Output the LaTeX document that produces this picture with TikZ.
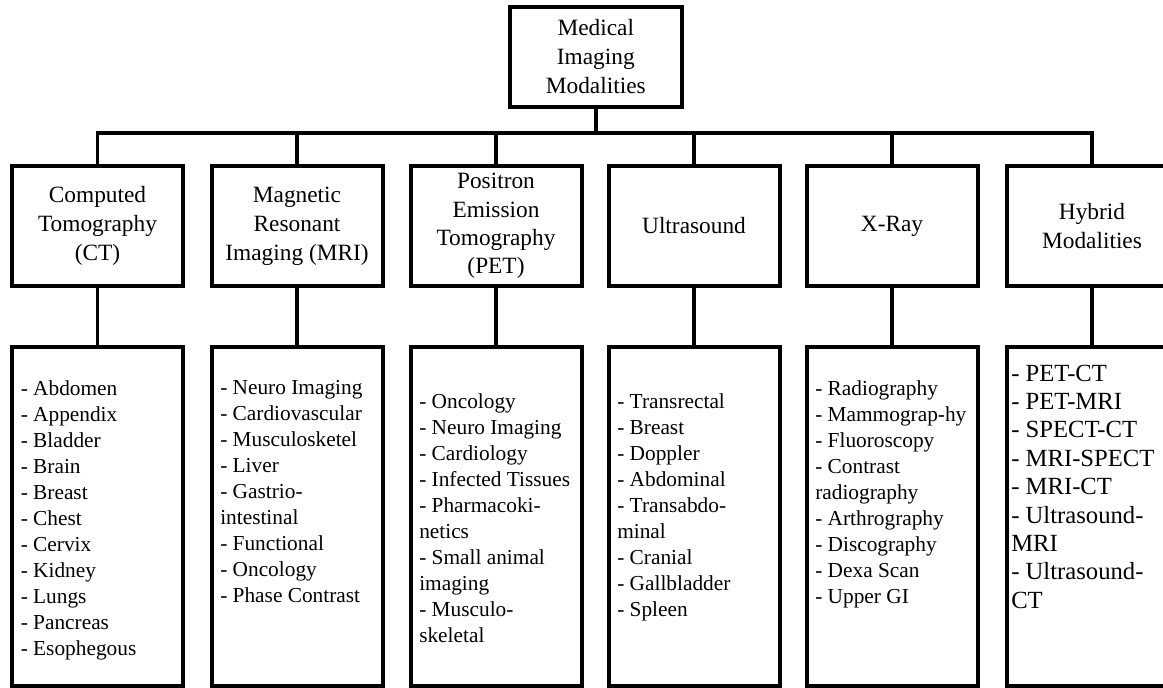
\documentclass[tikz,border=0pt]{standalone}
\usepackage{fontspec}
\setmainfont{Liberation Serif}
\begin{document}
\begin{tikzpicture}[x=0.75pt,y=-0.75pt,
  box/.style={draw,line width=3pt,inner sep=0pt,align=center,minimum width=128.25pt,font=\fontsize{17.5}{21.75}\selectfont},
  head/.style={box,minimum height=90pt},
  listbox/.style={draw,line width=3pt,inner sep=0pt,minimum width=128.25pt,minimum height=254.25pt},
  items/.style={anchor=north west,inner sep=0pt,align=left,font=\fontsize{16}{19.5}\selectfont},
  bigitems/.style={anchor=north west,inner sep=0pt,align=left,font=\fontsize{18.5}{21.3}\selectfont},
  link/.style={line width=2.6pt}]
\useasboundingbox (0,0) rectangle (1163,688);

% root
\node[box,minimum width=128.8pt,minimum height=75pt] (root) at (595.8,57) {Medical\\Imaging\\Modalities};

% second level
\node[head] (ct)  at (97.5,226)  {Computed\\Tomography\\(CT)};
\node[head] (mri) at (297,226)   {Magnetic\\Resonant\\Imaging (MRI)};
\node[head,font=\fontsize{17.5}{21.3}\selectfont] (pet) at (496,226) {Positron\\Emission\\Tomography\\(PET)};
\node[head] (us)  at (694,226)   {Ultrasound};
\node[head] (xr)  at (892,226)   {X-Ray};
\node[head] (hy)  at (1092,226)  {Hybrid\\Modalities};

% third level boxes
\node[listbox] (ctl)  at (97.5,516.5) {};
\node[listbox] (mril) at (297,516.5)  {};
\node[listbox] (petl) at (496,516.5)  {};
\node[listbox] (usl)  at (694,516.5)  {};
\node[listbox] (xrl)  at (892,516.5)  {};
\node[listbox] (hyl)  at (1092,516.5) {};

% lists
\node[items] (ctt) at (20.5,380) {- Abdomen\\- Appendix\\- Bladder\\- Brain\\- Breast\\- Chest\\- Cervix\\- Kidney\\- Lungs\\- Pancreas\\- Esophegous};
\node[items] (mrit) at (220,380) {- Neuro Imaging\\- Cardiovascular\\- Musculosketel\\- Liver\\- Gastrio-\\intestinal\\- Functional\\- Oncology\\- Phase Contrast};
\node[items] (pett) at (419,393) {- Oncology\\- Neuro Imaging\\- Cardiology\\- Infected Tissues\\- Pharmacoki-\\netics\\- Small animal\\imaging\\- Musculo-\\skeletal};
\node[items] (ust) at (617,393) {- Transrectal\\- Breast\\- Doppler\\- Abdominal\\- Transabdo-\\minal\\- Cranial\\- Gallbladder\\- Spleen};
\node[items] (xrt) at (815,380) {- Radiography\\- Mammograp-hy\\- Fluoroscopy\\- Contrast\\radiography\\- Arthrography\\- Discography\\- Dexa Scan\\- Upper GI};
\node[bigitems] (hyt) at (1011,364.5) {- PET-CT\\- PET-MRI\\- SPECT-CT\\- MRI-SPECT\\- MRI-CT\\- Ultrasound-\\MRI\\- Ultrasound-\\CT};

% connectors
\coordinate (bar) at (595.8,133);
\draw[link] (root.south) -- (bar);
\foreach \n in {ct,mri,pet,us,xr,hy}{
  \draw[link] (bar) -| (\n.north);
}
\draw[link] (ct.south) -- (ctl.north);
\draw[link] (mri.south) -- (mril.north);
\draw[link] (pet.south) -- (petl.north);
\draw[link] (us.south) -- (usl.north);
\draw[link] (xr.south) -- (xrl.north);
\draw[link] (hy.south) -- (hyl.north);
\end{tikzpicture}
\end{document}
